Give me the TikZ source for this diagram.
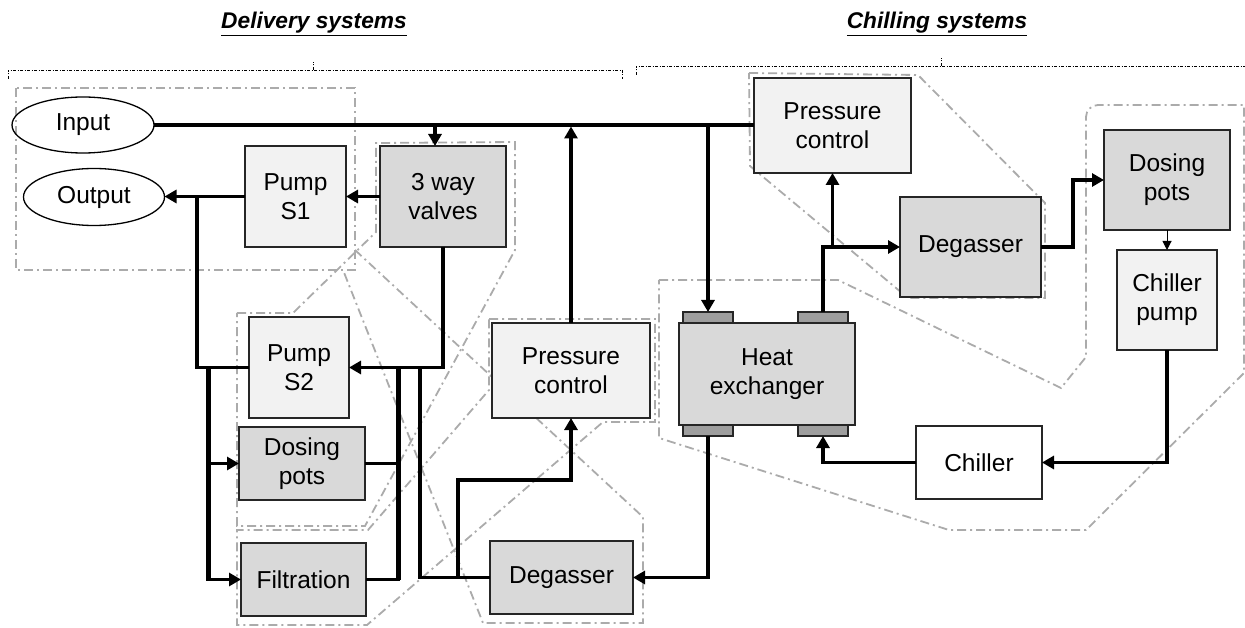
\documentclass[tikz,border=0pt]{standalone}
\usepackage{fontspec}
\setmainfont{Liberation Sans}
\usetikzlibrary{arrows.meta,shapes.geometric}
\begin{document}
\begin{tikzpicture}[x=1pt,y=-1pt,
  every node/.style={font=\fontsize{24.5}{29}\selectfont},
  blk/.style={draw=black!85, line width=1.3pt, align=center, inner sep=0pt, outer sep=0pt},
  light/.style={blk, fill=black!5},
  dark/.style={blk, fill=black!15},
  plain/.style={blk, fill=white},
  port/.style={draw=black!85, line width=1.1pt, fill=black!38, inner sep=0pt, outer sep=0pt,
    minimum width=50pt, minimum height=11pt},
  oval/.style={ellipse, draw=black, line width=1.3pt, inner sep=0pt, outer sep=0pt},
  pipe/.style={line width=3.6pt, line join=miter},
  heavy/.style={line width=5pt},
  flow/.style={pipe, -{Triangle[length=12pt,width=13pt]}},
  feed/.style={line width=1pt, -{Triangle[length=9pt,width=9pt]}},
  group/.style={draw=black!33, line width=1.8pt, dash pattern=on 9pt off 4pt on 2pt off 4pt},
  bracket/.style={draw=black, line width=0.8pt, dash pattern=on 3pt off 1.5pt on 1pt off 1.5pt},
  heading/.style={font=\fontsize{22.7}{26}\selectfont\bfseries\itshape, anchor=base, inner sep=0pt}
]
\useasboundingbox (0,0) rectangle (1245,628);

% headings and brackets
\node[heading] (hdel) at (314,29) {\underline{Delivery systems}};
\node[heading] (hchill) at (937,29) {\underline{Chilling systems}};
\draw[bracket] (8,79) -- (8,70) -- (622,70) -- (622,79);
\draw[bracket] (313,70) -- (313,62);
\draw[bracket] (636,75) -- (636,66) -- (1250,66);
\draw[bracket] (941,66) -- (941,58);

% subsystem outlines
\draw[group] (16,88) rectangle (355,270);
\draw[group] (237,313) -- (293,313) -- (376,232) -- (376,143) -- (515,142) -- (515,250)
  -- (365,526) -- (237,526) -- cycle;
\draw[group] (489,319) -- (655,319) -- (655,422) -- (603,422) -- (367,625) -- (237,625)
  -- (237,530) -- (368,530) -- (489,390) -- cycle;
\draw[group] (355,250) -- (643,517) -- (643,623) -- (483,623) -- (343,270);
\draw[group] (749,73) -- (918,75) -- (1045,203) -- (1045,298) -- (908,298) -- (750,166) -- cycle;
\draw[group] (659,280) -- (838,280) -- (1061,388) -- (1086,357) -- (1086,117)
  arc[start angle=180, end angle=270, radius=12] -- (1244,105) -- (1244,373)
  -- (1086,530) -- (949,530) -- (659,438) -- cycle;

% components
\node[oval, minimum width=142pt, minimum height=56pt] (input) at (83,125) {Input};
\node[oval, minimum width=141pt, minimum height=57pt] (output) at (94,197) {Output};
\node[light, minimum width=101pt, minimum height=101pt] (pumpA) at (295.5,196.5) {Pump\\S1};
\node[dark, minimum width=126pt, minimum height=101pt] (valves) at (443,196.5) {3 way\\valves};
\node[light, minimum width=100pt, minimum height=101pt] (pumpB) at (299,367.5) {Pump\\S2};
\node[dark, minimum width=126pt, minimum height=73pt] (dosA) at (302,463.5) {Dosing\\pots};
\node[dark, minimum width=125pt, minimum height=73pt] (filt) at (303.5,579.5) {Filtration};
\node[light, minimum width=158pt, minimum height=95pt] (pcA) at (571,370.5) {Pressure\\control};
\node[dark, minimum width=143pt, minimum height=73pt] (degA) at (561.5,577.5) {Degasser};
\node[light, minimum width=157pt, minimum height=95pt] (pcB) at (832.5,125.5) {Pressure\\control};
\node[dark, minimum width=141pt, minimum height=100pt] (degB) at (970.5,247) {Degasser};
\node[dark, minimum width=126pt, minimum height=100pt] (dosB) at (1167,180) {Dosing\\pots};
\node[light, minimum width=100pt, minimum height=100pt] (chp) at (1167,300) {Chiller\\pump};
\node[plain, minimum width=126pt, minimum height=73pt] (chiller) at (979,462.5) {Chiller};
\node[dark, minimum width=176pt, minimum height=102pt] (hx) at (767,374) {Heat\\exchanger};
\node[port, anchor=south] (pTL) at (708,323) {};
\node[port, anchor=south] (pTR) at (823,323) {};
\node[port, anchor=north] (pBL) at (708,425) {};
\node[port, anchor=north] (pBR) at (823,425) {};

% junction points
\coordinate (jIn) at (435,125);
\coordinate (jX) at (708,125);
\coordinate (jOut) at (197,197);
\coordinate (jL) at (208,368);
\coordinate (jR) at (398,368);
\coordinate (jD) at (420,368);
\coordinate (kD) at (458,480);
\coordinate (kS) at (1073,180);

% delivery piping
\draw[pipe] (input.east) -- (input.east -| pcB.west);
\draw[flow] (jIn) -- (jIn |- valves.north);
\draw[flow, shorten >=1.5pt] (pcA.north) -- (pcA.north |- input.east);
\draw[flow] (valves.west) -- (pumpA.east);
\draw[flow] (pumpA.west) -- (pumpA.west -| output.east);
\draw[pipe] (jOut) -- (jOut |- pumpB.west) -- (pumpB.west);
\draw[flow] (valves.south) -- (valves.south |- pumpB.east) -- (pumpB.east);
\draw[flow] (jL) -- (jL |- filt.west) -- (filt.west);
\draw[heavy] (jL) -- (jL |- filt.west);
\draw[flow] (jL |- dosA.west) -- (dosA.west);
\draw[pipe] (dosA.east) -- (dosA.east -| jR);
\draw[pipe] (filt.east) -- (filt.east -| jR) -- (jR);
\draw[heavy] (filt.east -| jR) -- (jR);
\draw[pipe] (degA.west) -- (degA.west -| jD) -- (jD);
\draw[flow] (kD |- degA.west) -- (kD) -- (kD -| pcA.south) -- (pcA.south);

% chilling piping
\draw[flow] (jX) -- (pTL.north);
\draw[flow] (pTR.north) -- (pTR.north |- degB.west) -- (degB.west);
\draw[flow] (pcB.south |- degB.west) -- (pcB.south);
\draw[flow] (degB.east) -- (degB.east -| kS) -- (kS) -- (dosB.west);
\draw[feed] (dosB.south) -- (chp.north);
\draw[flow] (chp.south) -- (chp.south |- chiller.east) -- (chiller.east);
\draw[flow] (chiller.west) -- (chiller.west -| pBR.south) -- (pBR.south);
\draw[flow] (pBL.south) -- (pBL.south |- degA.east) -- (degA.east);
\end{tikzpicture}
\end{document}
